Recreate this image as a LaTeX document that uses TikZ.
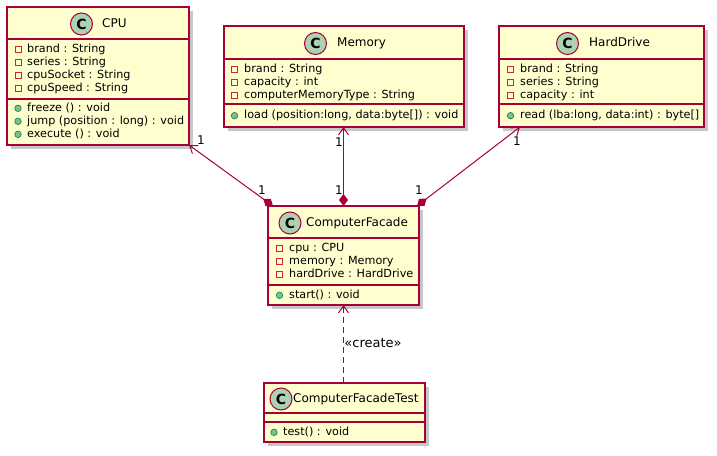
\documentclass[tikz,border=0pt]{standalone}
\usepackage{fontspec}
\setmainfont{DejaVu Sans}
\usetikzlibrary{arrows.meta,shadows}
\definecolor{plborder}{HTML}{A80036}
\definecolor{plfill}{HTML}{FEFECE}
\definecolor{plcirc}{HTML}{ADD1B2}
\definecolor{privred}{HTML}{C82930}
\definecolor{pubfill}{HTML}{84BE84}
\definecolor{publine}{HTML}{038048}
\begin{document}
\begin{tikzpicture}[x=1pt,y=-1pt,
  classbox/.style={draw=plborder, fill=plfill, line width=1.5pt, inner sep=0pt, outer sep=0pt, anchor=north west,
    drop shadow={shadow xshift=4pt, shadow yshift=-4pt, fill=black, opacity=0.22}},
  sepline/.style={draw=plborder, line width=1.5pt},
  ccirc/.style={circle, draw=plborder, fill=plcirc, line width=1pt, minimum size=22pt, inner sep=0pt,
    font=\fontsize{14}{14}\selectfont\bfseries},
  ctitle/.style={font=\fontsize{12}{14}\selectfont, inner sep=0pt, anchor=west, text height=9pt, text depth=2.5pt},
  attr/.style={font=\fontsize{11.2}{13}\selectfont, inner sep=0pt, anchor=west, text height=8.5pt, text depth=2.5pt},
  privmark/.style={rectangle, draw=privred, line width=0.8pt, minimum size=6pt, inner sep=0pt},
  pubmark/.style={circle, draw=publine, fill=pubfill, line width=0.6pt, minimum size=6.5pt, inner sep=0pt},
  conn/.style={draw=plborder, line width=1pt},
  lbl/.style={font=\fontsize{12}{14}\selectfont, inner sep=0pt},
]
\useasboundingbox (0,0) rectangle (717,455);

% ---------- CPU ----------
\node[classbox, minimum width=182pt, minimum height=138pt] (cpu) at (7,7) {};
\draw[sepline] ([yshift=-32pt]cpu.north west) -- ([yshift=-32pt]cpu.north east);
\draw[sepline] ([yshift=-92pt]cpu.north west) -- ([yshift=-92pt]cpu.north east);
\node[ccirc] (cpuC) at (81.5,24) {C};
\node[ctitle] (cpuT) at (102,24) {CPU};
\node[privmark] (cpuM1) at (18,49.3) {};
\node[attr] (cpuA1) at (27,49.3) {brand : String};
\node[privmark] (cpuM2) at (18,62.3) {};
\node[attr] (cpuA2) at (27,62.3) {series : String};
\node[privmark] (cpuM3) at (18,75.3) {};
\node[attr] (cpuA3) at (27,75.3) {cpuSocket : String};
\node[privmark] (cpuM4) at (18,88.3) {};
\node[attr] (cpuA4) at (27,88.3) {cpuSpeed : String};
\node[pubmark] (cpuP1) at (18,108.3) {};
\node[attr] (cpuF1) at (27,108.3) {freeze () : void};
\node[pubmark] (cpuP2) at (18,121.3) {};
\node[attr] (cpuF2) at (27,121.3) {jump (position : long) : void};
\node[pubmark] (cpuP3) at (18,134.3) {};
\node[attr] (cpuF3) at (27,134.3) {execute () : void};

% ---------- Memory ----------
\node[classbox, minimum width=240pt, minimum height=101pt] (memory) at (224,26) {};
\draw[sepline] ([yshift=-33pt]memory.north west) -- ([yshift=-33pt]memory.north east);
\draw[sepline] ([yshift=-78pt]memory.north west) -- ([yshift=-78pt]memory.north east);
\node[ccirc] (memC) at (315.5,43.5) {C};
\node[ctitle] (memT) at (337,43.5) {Memory};
\node[privmark] (memM1) at (234.5,69.3) {};
\node[attr] (memA1) at (244,69.3) {brand : String};
\node[privmark] (memM2) at (234.5,82.3) {};
\node[attr] (memA2) at (244,82.3) {capacity : int};
\node[privmark] (memM3) at (234.5,95) {};
\node[attr] (memA3) at (244,95) {computerMemoryType : String};
\node[pubmark] (memP1) at (234.5,115.7) {};
\node[attr] (memF1) at (244,115.7) {load (position:long, data:byte[]) : void};

% ---------- HardDrive ----------
\node[classbox, minimum width=205pt, minimum height=101pt] (hd) at (499,26) {};
\draw[sepline] ([yshift=-33pt]hd.north west) -- ([yshift=-33pt]hd.north east);
\draw[sepline] ([yshift=-78pt]hd.north west) -- ([yshift=-78pt]hd.north east);
\node[ccirc] (hdC) at (567.5,43.5) {C};
\node[ctitle] (hdT) at (589,43.5) {HardDrive};
\node[privmark] (hdM1) at (510.5,69.3) {};
\node[attr] (hdA1) at (520,69.3) {brand : String};
\node[privmark] (hdM2) at (510.5,82.3) {};
\node[attr] (hdA2) at (520,82.3) {series : String};
\node[privmark] (hdM3) at (510.5,95) {};
\node[attr] (hdA3) at (520,95) {capacity : int};
\node[pubmark] (hdP1) at (510.5,115.7) {};
\node[attr] (hdF1) at (520,115.7) {read (lba:long, data:int) : byte[]};

% ---------- ComputerFacade ----------
\node[classbox, minimum width=151pt, minimum height=99pt] (facade) at (268,206) {};
\draw[sepline] ([yshift=-32pt]facade.north west) -- ([yshift=-32pt]facade.north east);
\draw[sepline] ([yshift=-79pt]facade.north west) -- ([yshift=-79pt]facade.north east);
\node[ccirc] (facC) at (290,223) {C};
\node[ctitle] (facT) at (306,223) {ComputerFacade};
\node[privmark] (facM1) at (279.5,248.3) {};
\node[attr] (facA1) at (289,248.3) {cpu : CPU};
\node[privmark] (facM2) at (279.5,261.3) {};
\node[attr] (facA2) at (289,261.3) {memory : Memory};
\node[privmark] (facM3) at (279.5,274.3) {};
\node[attr] (facA3) at (289,274.3) {hardDrive : HardDrive};
\node[pubmark] (facP1) at (279.5,295.3) {};
\node[attr] (facF1) at (289,295.3) {start() : void};

% ---------- ComputerFacadeTest ----------
\node[classbox, minimum width=161pt, minimum height=59pt] (test) at (264,383) {};
\draw[sepline] ([yshift=-30pt]test.north west) -- ([yshift=-30pt]test.north east);
\draw[sepline] ([yshift=-39pt]test.north west) -- ([yshift=-39pt]test.north east);
\node[ccirc] (tstC) at (281,399) {C};
\node[ctitle] (tstT) at (293,399) {ComputerFacadeTest};
\node[pubmark] (tstP1) at (274,432.3) {};
\node[attr] (tstF1) at (283,432.3) {test() : void};

% ---------- connectors ----------
\draw[conn, {Straight Barb[length=7pt,width=10pt]}-{Diamond[length=12pt,width=9pt]}]
  (cpu.south east) -- ([xshift=5pt]facade.north west);
\draw[conn, {Straight Barb[length=7pt,width=10pt]}-{Diamond[length=12pt,width=9pt]}]
  (facade.north |- memory.south) -- (facade.north);
\draw[conn, {Straight Barb[length=7pt,width=10pt]}-{Diamond[length=12pt,width=9pt]}]
  ([xshift=21pt]hd.south west) -- ([xshift=-2pt]facade.north east);
\draw[conn, dash pattern=on 6pt off 4pt, -{Straight Barb[length=7pt,width=10pt]}]
  (facade.south |- test.north) -- (facade.south);

% ---------- labels ----------
\node[lbl] (l1) at (201,140) {1};
\node[lbl] (l2) at (262,190) {1};
\node[lbl] (l3) at (339,142) {1};
\node[lbl] (l4) at (339,190) {1};
\node[lbl] (l5) at (517,141) {1};
\node[lbl] (l6) at (419,190) {1};
\node[font=\fontsize{13}{15}\selectfont, inner sep=0pt] (lcreate) at (373,343) {«create»};
\end{tikzpicture}
\end{document}
